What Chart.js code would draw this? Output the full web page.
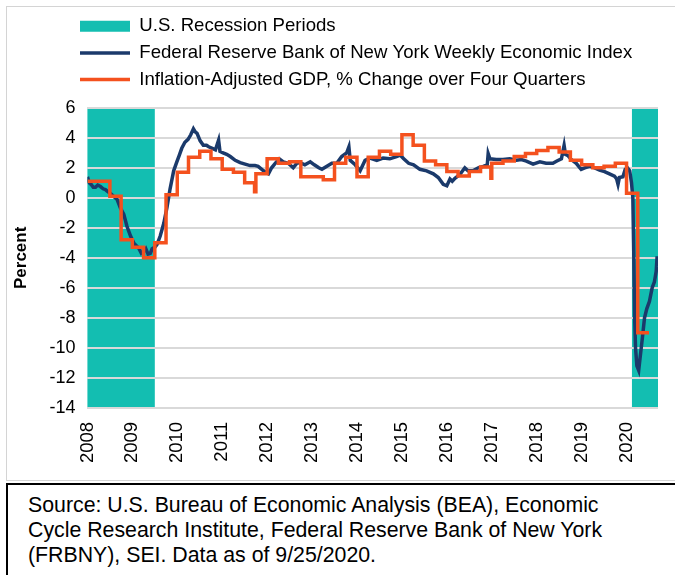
<!DOCTYPE html>
<html>
<head>
<meta charset="utf-8">
<script src="https://cdn.jsdelivr.net/npm/chart.js@4.4.0/dist/chart.umd.min.js"></script>
<style>
  body { margin: 0; background: #fff; font-family: "Liberation Sans", Arial, sans-serif; }
  #frame { position: absolute; left: 6px; top: 6px; width: 680px; height: 473px; border: 1px solid #d4d4d4; }
  #wrap { position: absolute; left: 0; top: 0; width: 675px; height: 480px; }
  #source { position: absolute; left: 6px; top: 483px; width: 680px; height: 100px; border: 2px solid #000;
            box-sizing: border-box; padding: 8px 0 0 20px; font-size: 21.3px; line-height: 25px; color: #000; }
</style>
</head>
<body>
<div id="frame"></div>
<div id="wrap"><canvas id="mycanvas" width="675" height="480"></canvas></div>
<div id="source">Source: U.S. Bureau of Economic Analysis (BEA), Economic<br>Cycle Research Institute, Federal Reserve Bank of New York<br>(FRBNY), SEI. Data as of 9/25/2020.</div>
<script>
// recession periods (decimal years)
var recessionStart = [2008.0, 2020.12];
var recessionEnd = [2009.5, 2020.7];

// NY Fed Weekly Economic Index (decimal year, percent)
var weiDates = [2008.00, 2008.04, 2008.08, 2008.13, 2008.18, 2008.23, 2008.29, 2008.35, 2008.40, 2008.46,
  2008.51, 2008.58, 2008.66, 2008.73, 2008.81, 2008.88, 2008.96, 2009.03, 2009.09, 2009.14,
  2009.20, 2009.25, 2009.30, 2009.35, 2009.40, 2009.44, 2009.50, 2009.55, 2009.62, 2009.70,
  2009.77, 2009.84, 2009.92, 2009.99, 2010.04, 2010.10, 2010.17, 2010.24, 2010.30, 2010.36,
  2010.40, 2010.44, 2010.51, 2010.58, 2010.65, 2010.70, 2010.78, 2010.85, 2010.92, 2010.95,
  2011.02, 2011.10, 2011.18, 2011.29, 2011.40, 2011.51, 2011.62, 2011.73, 2011.80, 2011.92,
  2012.03, 2012.10, 2012.18, 2012.27, 2012.36, 2012.47, 2012.58, 2012.66, 2012.73, 2012.84,
  2012.96, 2013.05, 2013.15, 2013.22, 2013.33, 2013.44, 2013.55, 2013.66, 2013.77, 2013.82,
  2013.85, 2013.96, 2014.07, 2014.18, 2014.29, 2014.44, 2014.58, 2014.73, 2014.88, 2014.96,
  2015.04, 2015.15, 2015.26, 2015.40, 2015.55, 2015.70, 2015.81, 2015.92, 2016.00, 2016.07,
  2016.12, 2016.18, 2016.29, 2016.40, 2016.47, 2016.58, 2016.70, 2016.81, 2016.90, 2016.92,
  2016.96, 2017.10, 2017.25, 2017.40, 2017.55, 2017.66, 2017.77, 2017.92, 2018.07, 2018.21,
  2018.36, 2018.45, 2018.55, 2018.61, 2018.64, 2018.70, 2018.77, 2018.88, 2018.99, 2019.07,
  2019.18, 2019.29, 2019.40, 2019.51, 2019.62, 2019.73, 2019.78, 2019.81, 2019.84, 2019.92,
  2019.97, 2020.02, 2020.07, 2020.11, 2020.14, 2020.16, 2020.18, 2020.20, 2020.23, 2020.27,
  2020.30, 2020.35, 2020.40, 2020.45, 2020.51, 2020.57, 2020.62, 2020.66, 2020.68, 2020.70];
var weiValues = [1.4, 1.0, 0.9, 0.7, 0.7, 0.85, 0.75, 0.6, 0.55, 0.4,
  0.3, 0.1, -0.1, -0.65, -1.1, -1.9, -2.55, -3.0, -3.2, -3.35,
  -3.7, -3.6, -3.4, -3.75, -3.7, -3.4, -3.3, -3.1, -2.55, -1.7,
  -0.65, 0.6, 1.8, 2.4, 2.8, 3.3, 3.7, 3.9, 4.2, 4.6,
  4.4, 4.3, 3.8, 3.5, 3.5, 3.4, 3.3, 3.2, 3.85, 3.1,
  3.0, 2.9, 2.75, 2.5, 2.35, 2.25, 2.15, 2.15, 2.1, 1.8,
  1.6, 2.0, 2.3, 2.6, 2.4, 2.3, 2.0, 2.3, 2.35, 2.2,
  2.4, 2.2, 2.0, 1.9, 2.1, 2.3, 2.3, 2.75, 3.0, 3.4,
  2.5, 2.2, 1.8, 2.5, 2.65, 2.5, 2.65, 2.6, 2.75, 2.85,
  2.6, 2.3, 2.2, 1.9, 1.8, 1.6, 1.35, 0.9, 0.8, 1.25,
  1.1, 1.3, 1.55, 2.0, 1.8, 1.8, 2.0, 2.1, 2.2, 2.95,
  2.6, 2.55, 2.55, 2.6, 2.5, 2.55, 2.45, 2.25, 2.4, 2.3,
  2.3, 2.45, 2.6, 3.5, 2.9, 2.8, 2.55, 2.3, 1.9, 2.0,
  2.1, 2.0, 1.85, 1.75, 1.6, 1.45, 1.25, 0.9, 1.35, 1.4,
  1.9, 2.0, 1.8, 1.0, 0.0, -3.6, -8.0, -10.0, -11.2, -11.5,
  -10.7, -9.4, -8.0, -7.4, -6.9, -6.0, -5.6, -4.9, -3.9, -4.6];

// real GDP, % change over four quarters (quarter start, stepped)
var gdpDates = [2008.0, 2008.25, 2008.5, 2008.75, 2009.0, 2009.25, 2009.5, 2009.75, 2010.0, 2010.25,
  2010.5, 2010.75, 2011.0, 2011.25, 2011.5, 2011.72, 2011.75, 2012.0, 2012.25, 2012.5,
  2012.75, 2013.0, 2013.25, 2013.5, 2013.75, 2014.0, 2014.25, 2014.5, 2014.75, 2015.0,
  2015.25, 2015.5, 2015.75, 2016.0, 2016.25, 2016.5, 2016.75, 2016.98, 2017.0, 2017.25,
  2017.5, 2017.75, 2018.0, 2018.25, 2018.5, 2018.75, 2019.0, 2019.25, 2019.5, 2019.75,
  2020.0, 2020.25, 2020.5];
var gdpValues = [1.1, 1.1, 0.1, -2.8, -3.3, -4.0, -3.0, 0.2, 1.7, 2.7,
  3.1, 2.6, 1.9, 1.7, 1.0, 0.4, 1.6, 2.6, 2.3, 2.4,
  1.4, 1.4, 1.2, 2.3, 2.7, 1.4, 2.7, 3.1, 2.9, 4.2,
  3.5, 2.45, 2.2, 1.75, 1.45, 1.75, 2.05, 1.3, 2.3, 2.45,
  2.75, 2.95, 3.15, 3.35, 3.05, 2.5, 2.2, 2.0, 2.1, 2.3,
  0.3, -9.0, -9.0];

var yMin = -14, yMax = 6;

var weiPoints = [];
for (var i in weiDates) {
  weiPoints.push({x: weiDates[i], y: weiValues[i]});
}
var gdpPoints = [];
for (var j in gdpDates) {
  gdpPoints.push({x: gdpDates[j], y: gdpValues[j]});
}

var recessionShade = {
  id: 'recessionShade',
  beforeDraw: function(chart) {
    var ctx = chart.ctx;
    var xs = chart.scales.x, ys = chart.scales.y;
    ctx.save();
    ctx.fillStyle = '#13beb1';
    for (var k = 0; k < recessionStart.length; k++) {
      var x0 = xs.getPixelForValue(recessionStart[k]);
      var x1 = xs.getPixelForValue(recessionEnd[k]);
      var y0 = ys.getPixelForValue(yMax);
      var y1 = ys.getPixelForValue(yMin);
      ctx.fillRect(x0, y0, x1 - x0, y1 - y0);
    }
    ctx.restore();
  }
};

// put the legend block where the original has it
var legendPlace = {
  id: 'legendPlace',
  afterLayout: function(chart) {
    chart.legend.left = 72;
    chart.legend.top = 9;
  }
};

Chart.defaults.font.family = '"Liberation Sans", Arial, sans-serif';
Chart.defaults.color = '#000';

var ctx = document.getElementById('mycanvas');
var chart = new Chart(ctx, {
  type: 'line',
  data: {
    datasets: [
      {
        label: 'U.S. Recession Periods',
        data: [],
        backgroundColor: '#13beb1',
        borderColor: '#13beb1',
        borderWidth: 0,
        pointStyle: 'rect',
        order: 3
      },
      {
        label: 'Federal Reserve Bank of New York Weekly Economic Index',
        data: weiPoints,
        borderColor: '#1b3a6b',
        backgroundColor: '#1b3a6b',
        borderWidth: 3.5,
        pointRadius: 0,
        pointStyle: 'line',
        tension: 0,
        order: 2
      },
      {
        label: 'Inflation-Adjusted GDP, % Change over Four Quarters',
        data: gdpPoints,
        borderColor: '#f4511e',
        backgroundColor: '#f4511e',
        borderWidth: 3.5,
        pointRadius: 0,
        pointStyle: 'line',
        stepped: true,
        order: 1
      }
    ]
  },
  options: {
    responsive: false,
    animation: false,
    devicePixelRatio: 1,
    layout: { padding: { left: 11, right: 17, top: 18, bottom: 11 } },
    plugins: {
      tooltip: { enabled: false },
      legend: {
        position: 'top',
        align: 'start',
        labels: {
          usePointStyle: true,
          pointStyleWidth: 50,
          boxHeight: 11,
          padding: 8,
          color: '#000',
          font: { size: 18.6 },
          sort: function(a, b) { return a.datasetIndex - b.datasetIndex; }
        }
      }
    },
    scales: {
      x: {
        type: 'linear',
        min: 2008,
        max: 2020.7,
        grid: { display: false },
        border: { display: false },
        afterBuildTicks: function(axis) {
          axis.ticks = axis.ticks.filter(function(t) { return Number.isInteger(t.value); });
        },
        ticks: {
          stepSize: 1,
          autoSkip: false,
          minRotation: 90,
          maxRotation: 90,
          padding: 6,
          font: { size: 18.5 },
          callback: function(v) { return String(v); }
        }
      },
      y: {
        min: yMin,
        max: yMax,
        grid: { color: '#d9d9d9', lineWidth: 2, drawTicks: false },
        border: { display: false },
        title: { display: true, text: 'Percent', font: { size: 17, weight: 'bold' }, padding: { top: 0, bottom: 6 } },
        ticks: { stepSize: 2, padding: 12, font: { size: 18 } }
      }
    }
  },
  plugins: [recessionShade, legendPlace]
});
</script>
</body>
</html>
